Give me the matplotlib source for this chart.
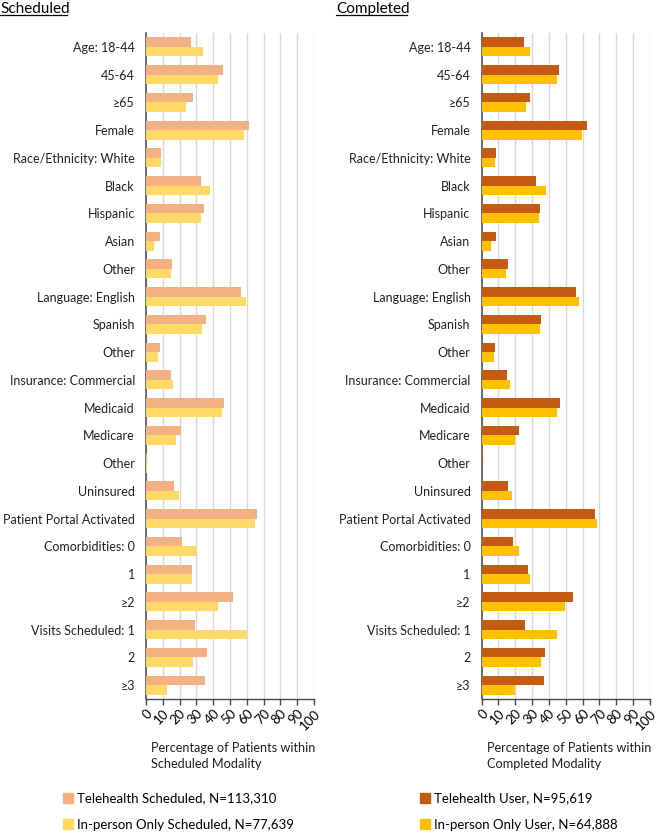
import numpy as np
import matplotlib
matplotlib.use('Agg')
from matplotlib import pyplot as plt
from matplotlib.patches import Patch

plt.rcParams['font.family'] = ['Lato', 'DejaVu Sans']

categories = ['Age: 18-44', '45-64', '\u226565', 'Female', 'Race/Ethnicity: White',
              'Black', 'Hispanic', 'Asian', 'Other', 'Language: English', 'Spanish',
              'Other', 'Insurance: Commercial', 'Medicaid', 'Medicare', 'Other',
              'Uninsured', 'Patient Portal Activated', 'Comorbidities: 0', '1',
              '\u22652', 'Visits Scheduled: 1', '2', '\u22653']

# scheduled modality
tele_sched = [26.8, 45.6, 27.8, 61.1, 8.9, 32.5, 34.5, 8.3, 15.7, 56.5, 35.5, 8.3,
              15.1, 46.2, 21.0, 0.6, 16.5, 65.9, 21.4, 27.2, 51.6, 29.2, 36.1, 34.9]
inperson_sched = [33.9, 42.7, 23.6, 58.1, 8.9, 38.3, 32.9, 5.0, 15.1, 59.3, 33.5, 7.1,
                  16.1, 45.4, 18.1, 0.5, 19.8, 64.7, 30.2, 27.2, 43.1, 59.9, 27.8, 12.5]

# completed modality
tele_user = [24.9, 46.1, 28.5, 62.6, 8.5, 32.1, 34.7, 8.7, 15.6, 56.2, 35.4, 8.1,
             15.0, 46.3, 22.2, 0.6, 15.4, 67.5, 18.6, 27.3, 54.1, 25.5, 37.6, 36.8]
inperson_user = [28.7, 44.6, 26.5, 59.4, 7.9, 38.2, 33.9, 5.5, 14.5, 57.6, 34.5, 7.5,
                 16.6, 44.8, 20.0, 0.4, 17.8, 68.5, 22.0, 28.7, 49.5, 45.0, 35.2, 19.8]

legend_sched = ['Telehealth Scheduled, N=113,310', 'In-person Only Scheduled, N=77,639']
legend_user = ['Telehealth User, N=95,619', 'In-person Only User, N=64,888']

fig = plt.figure(figsize=(6.61, 8.34), dpi=100)
ax1 = fig.add_axes([0.2209, 0.1619, 0.2542, 0.7985])
ax2 = fig.add_axes([0.7287, 0.1619, 0.2546, 0.7985])


def draw_panel(ax, tele, inperson, c_tele, c_in, xlabel):
    y = np.arange(len(categories))
    h = 0.34
    ax.barh(y - h / 2, tele, height=h, color=c_tele, zorder=3)
    ax.barh(y + h / 2, inperson, height=h, color=c_in, zorder=3)
    ax.set_ylim(len(categories) - 0.5, -0.5)
    ax.set_xlim(0, 100)
    ax.set_yticks(y)
    ax.set_yticklabels(categories, fontsize=9, color='#222222')
    ax.tick_params(axis='y', length=0, pad=8)
    ax.set_xticks(np.arange(0, 101, 10))
    ax.set_xticklabels([str(v) for v in range(0, 101, 10)], rotation=45,
                       ha='right', va='top', rotation_mode='anchor', fontsize=9.5)
    ax.tick_params(axis='x', length=4, width=1, color='#444444', pad=2)
    ax.grid(axis='x', color='#d9d9d9', linewidth=1, zorder=0)
    for s in ['top', 'right']:
        ax.spines[s].set_visible(False)
    ax.spines['left'].set_color('#555555')
    ax.spines['left'].set_linewidth(1.2)
    ax.spines['bottom'].set_color('#444444')
    ax.spines['bottom'].set_linewidth(1)
    ax.set_xlabel(xlabel, fontsize=9.2, ha='left', x=0.03, labelpad=7,
                  color='#222222', linespacing=1.4)


draw_panel(ax1, tele_sched, inperson_sched, '#F4B183', '#FFD966',
           'Percentage of Patients within\nScheduled Modality')
draw_panel(ax2, tele_user, inperson_user, '#C55A11', '#FFC000',
           'Percentage of Patients within\nCompleted Modality')

fig.text(0.0, 0.9844, 'Scheduled', fontsize=11, va='baseline', ha='left')
fig.text(0.508, 0.9844, 'Completed', fontsize=11, va='baseline', ha='left')
fig.add_artist(plt.Line2D([0.0, 0.101], [0.9826, 0.9826], color='black', lw=0.9))
fig.add_artist(plt.Line2D([0.508, 0.615], [0.9826, 0.9826], color='black', lw=0.9))

fig.legend(handles=[Patch(color='#F4B183'), Patch(color='#FFD966')], labels=legend_sched,
           loc='upper left', bbox_to_anchor=(0.095, 0.05), frameon=False, fontsize=9.5,
           handlelength=0.8, handleheight=0.8, handletextpad=0.3, labelspacing=1.1,
           borderpad=0, borderaxespad=0)
fig.legend(handles=[Patch(color='#C55A11'), Patch(color='#FFC000')], labels=legend_user,
           loc='upper left', bbox_to_anchor=(0.635, 0.05), frameon=False, fontsize=9.5,
           handlelength=0.8, handleheight=0.8, handletextpad=0.3, labelspacing=1.1,
           borderpad=0, borderaxespad=0)

plt.savefig('out.png', dpi=100)
